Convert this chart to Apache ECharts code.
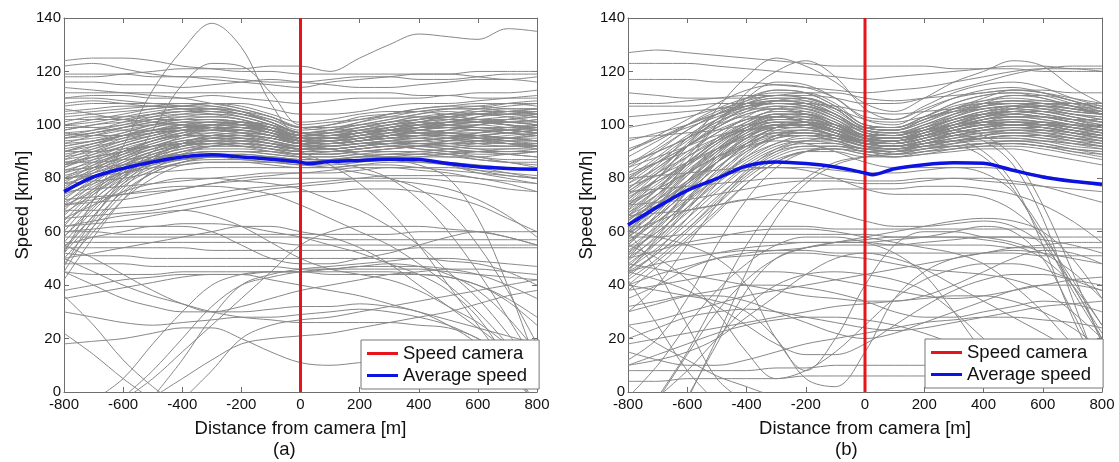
<!DOCTYPE html>
<html><head><meta charset="utf-8">
<script src="https://cdn.jsdelivr.net/npm/echarts@6/dist/echarts.min.js"></script>
<style>html,body{margin:0;padding:0;background:#fff}#c{width:1119px;height:462px}</style>
</head><body><div id="c"></div><script>
// ---------- DATA ----------
const distances = [-800,-700,-600,-500,-400,-300,-200,-100,0,100,200,300,400,500,600,700,800];
const avgDistances = [-800,-700,-600,-500,-400,-300,-200,-100,0,25,100,200,300,400,500,600,700,800];
const avgSpeedA = [75,80.5,83.7,86.1,88,88.8,88,87.1,86,85.5,86.3,86.7,87.1,87,85.5,84.3,83.7,83.4];
const avgSpeedB = [62.5,69.3,75.5,79.9,84.6,86.1,85.5,84.2,82,81.3,83.6,85.1,85.8,85.6,83,80.5,78.9,77.8];
const cameraPosition = 0;
const speedRange = [0, 140];
const distRange = [-800, 800];
const seriesNames = ['Speed camera', 'Average speed'];
const panelLabels = ['(a)', '(b)'];
const _ = null;
const speedTracesA = [
[124,125,125,124,122,121,120,120,119,119,119,119,119,119,120,120,120],
[122,123,121,119,118,118,117,116,116,117,118,118,117,117,118,119,119],
[119,119,119,118,118,117,116,115,114,116,117,118,119,119,118,117,118],
[116,116,115,115,114,115,116,117,116,115,114,114,115,116,117,117,116],
[112,112,112,112,112,112,112,112,112,112,112,112,111,111,112,112,113],
[110,111,111,110,110,111,110,109,108,109,110,110,110,111,110,110,110],
[108,109,108,107,107,108,108,106,104,104,105,107,108,108,109,110,111],
[105,106,107,107,106,105,104,102,99,100,103,104,105,106,106,107,108],
[103,104,105,106,107,108,107,104,101,102,104,105,105,104,104,105,105],
[100,102,104,106,107,107,105,102,98,99,100,101,103,103,104,104,104],
[98,100,102,104,105,105,103,100,96,97,99,100,101,102,102,101,100],
[96,98,101,104,106,106,105,101,97,97,98,100,101,100,99,99,99],
[95,97,99,101,103,104,103,100,96,96,97,99,100,100,99,98,97],
[93,96,99,102,103,103,102,99,95,95,97,98,98,97,96,95,96],
[92,94,97,100,102,103,102,98,94,95,97,99,101,103,104,104,103],
[90,93,96,99,101,102,101,98,95,96,98,100,102,103,105,106,106],
[88,92,96,99,101,101,100,98,96,97,99,101,102,104,106,108,109],
[87,91,95,98,100,100,99,97,94,94,96,98,99,99,98,97,96],
[85,90,94,97,98,99,99,97,95,95,96,97,97,96,95,94,94],
[84,89,93,96,98,98,97,96,93,93,94,95,96,96,97,98,99],
[82,87,92,95,97,98,98,96,94,94,95,96,96,95,93,92,92],
[80,86,91,94,96,97,96,94,92,93,94,95,95,94,94,95,97],
[78,85,90,94,96,96,95,93,91,91,92,93,94,95,96,97,98],
[76,84,90,94,96,96,95,93,92,92,93,94,93,92,91,90,90],
[74,82,88,92,94,95,95,93,91,92,93,93,92,91,90,90,91],
[72,80,87,91,94,95,94,92,90,90,91,92,93,93,94,95,96],
[70,79,86,90,92,93,93,92,90,90,91,92,92,91,90,89,88],
[68,78,85,90,93,94,93,91,89,90,91,92,92,92,93,94,94],
[66,76,84,89,92,93,92,91,89,89,90,90,90,89,88,87,87],
[64,75,83,88,91,92,92,91,90,90,91,92,91,90,88,86,85],
[62,74,82,87,90,91,91,90,89,89,90,91,92,93,93,93,92],
[60,72,80,86,89,90,90,89,88,88,89,90,90,89,87,86,84],
[58,70,79,85,88,89,89,88,87,87,88,89,89,88,88,89,90],
[56,68,78,84,87,88,88,87,86,87,88,88,87,86,85,84,83],
[54,66,77,83,86,87,87,86,86,86,87,87,86,85,84,82,80],
[52,64,75,82,86,88,88,87,86,86,87,88,89,90,90,89,88],
[50,62,74,82,86,88,89,88,87,87,88,88,87,85,82,80,78],
[48,60,72,80,85,86,86,85,84,84,85,86,86,85,83,81,80],
[100,99,98,98,99,100,101,100,97,98,100,102,104,106,107,108,108],
[106,104,102,101,100,99,98,96,93,94,96,98,100,101,102,103,104],
[97,96,96,97,98,98,97,95,93,93,94,95,96,98,100,101,101],
[90,90,91,92,93,94,94,93,91,91,92,93,94,95,97,99,100],
[86,86,87,88,89,90,90,90,89,89,90,91,92,94,96,97,98],
[83,84,85,86,87,88,88,88,87,87,88,89,90,91,92,92,92],
[80,81,82,84,85,86,86,86,85,85,86,87,88,89,90,91,91],
[78,79,80,82,83,84,84,84,84,84,85,85,84,83,82,81,80],
[75,76,77,78,79,80,81,82,82,83,84,84,83,82,80,79,78],
[72,73,74,75,76,78,80,81,82,82,83,84,84,84,83,82,81],
[70,71,72,74,76,78,79,80,80,80,80,80,80,79,78,76,75],
[68,68,69,70,72,74,76,77,78,79,80,81,81,81,80,78,75],
[65,66,67,68,70,72,74,76,77,78,79,79,78,76,72,66,58],
[62,63,64,66,68,70,72,74,75,75,76,76,75,73,70,65,60],
[58,58,58,58,58,58,58,58,58,57,57,57,57,57,57,57,57],
[56,56,56,56,56,56,56,56,55,55,55,55,55,55,55,55,55],
[60,60,59,59,59,59,59,59,59,59,59,59,60,60,60,60,60],
[54,54,54,54,54,53,53,53,53,53,53,53,54,54,54,54,54],
[52,51,51,50,50,50,50,50,50,50,50,50,50,49,48,45,40],
[48,48,48,47,47,47,47,47,46,46,47,47,47,46,44,40,35],
[45,44,44,44,45,45,45,45,45,45,45,45,44,43,40,34,25],
[38,40,42,43,44,44,44,45,45,46,47,48,47,44,38,28,15],
[50,45,40,36,33,30,28,27,26,26,26,26,25,24,20,12,2],
[55,50,44,38,33,30,30,31,32,32,33,32,30,25,18,8,-5],
[36,25,12,2,-6,_,_,_,_,_,_,_,_,_,_,_,_],
[_,_,-2,8,20,32,40,43,45,46,46,46,46,45,44,43,42],
[_,_,_,-2,12,28,40,44,46,47,48,49,50,50,49,48,47],
[_,-3,5,18,30,40,44,45,45,44,44,44,44,43,40,35,28],
[_,_,-3,5,15,25,35,45,55,60,62,62,62,61,60,58,55],
[_,_,_,_,-3,8,20,25,27,28,30,32,34,36,38,40,42],
[52,72,92,113,128,138,129,108,96,97,98,98,97,96,95,95,94],
[70,75,82,98,115,123,122,112,100,101,102,103,103,102,101,100,99],
[118,118,119,120,121,121,121,122,122,120,125,130,134,133,132,136,135],
[95,97,99,100,100,99,97,94,90,85,78,68,55,40,25,10,-5],
[85,88,90,92,93,93,92,90,88,86,84,80,72,60,45,28,10],
[90,93,96,98,99,99,98,96,93,91,89,87,85,80,65,40,10],
[80,82,85,87,88,88,87,86,85,84,82,80,76,68,55,38,18],
[65,70,75,78,80,80,79,78,76,72,68,62,55,45,35,22,8],
[62,64,66,67,68,66,62,56,50,46,44,42,38,32,26,18,12],
[22,14,5,-3,_,_,_,_,_,_,_,_,_,_,_,_,_],
[18,19,20,22,24,24,20,15,11,10,11,12,12,11,10,9,9],
[_,_,_,-2,5,12,18,20,21,22,24,26,28,30,33,36,38],
[30,28,26,25,26,27,28,28,29,30,31,30,28,25,20,14,8],
[45,40,35,32,30,30,32,35,38,40,42,44,45,46,46,45,44],
[55,58,60,62,62,60,55,50,48,48,50,52,55,58,60,58,55],
[60,61,62,62,63,63,62,60,58,55,52,48,44,38,28,12,-5],
[70,72,74,76,77,77,76,74,70,65,60,55,48,40,30,18,5],
[50,52,54,56,58,60,62,62,60,58,54,48,40,32,24,16,10],
[35,37,39,41,43,44,44,42,40,38,36,33,30,27,24,21,18],
[45,62,76,86,92,95,96,95,93,93,94,95,96,96,95,94,93],
[42,58,72,83,89,92,93,92,91,91,92,93,94,95,95,94,92],
[47,65,80,90,96,99,100,99,96,96,97,98,99,100,101,101,100],
[101,103,103,104,105,106,105,103,99,98,99,101,102,103,102,101,102],
[99,99,100,102,104,105,104,101,97,96,98,100,102,104,105,105,106],
[97,98,100,103,105,104,102,99,95,95,96,97,99,101,103,104,105],
[94,95,97,100,102,102,100,98,94,93,95,97,98,100,101,101,102],
[91,93,95,97,100,101,100,97,93,93,94,96,98,99,100,101,100],
[89,91,94,96,98,99,99,97,94,94,95,97,99,100,101,102,103],
[87,89,92,95,98,100,100,98,95,95,96,98,100,101,101,100,99],
[86,88,90,93,96,98,99,98,96,96,97,98,98,97,96,97,98],
[83,86,89,92,95,97,98,97,95,95,97,99,100,99,98,97,96],
[81,84,88,92,95,96,96,95,93,93,94,96,97,97,96,95,95],
[79,83,87,91,94,95,95,94,92,92,93,94,96,97,98,98,97],
[77,82,86,90,93,95,96,95,93,92,93,94,95,95,94,93,93],
[75,80,85,89,92,94,95,94,92,91,92,93,93,92,91,91,92],
[73,79,85,89,92,93,93,92,91,91,92,94,95,96,96,95,94],
[71,77,83,88,91,93,94,93,92,92,93,94,94,93,92,92,93],
[69,76,82,87,90,92,93,92,91,91,92,93,93,94,95,96,97],
[67,74,81,86,90,92,92,91,90,90,91,92,91,90,89,89,90],
[100,101,103,105,106,106,104,101,97,97,99,101,103,104,104,103,101],
[104,105,106,107,108,108,106,103,99,99,101,103,105,106,106,105,104],
[107,108,108,108,108,107,105,101,97,98,101,104,106,107,108,108,107],
[96,97,99,101,102,102,101,99,96,96,97,98,99,99,98,98,99],
[92,94,96,98,99,100,100,99,97,96,97,99,101,103,102,100,98],
[88,90,93,96,99,101,101,99,96,95,96,98,100,102,104,105,104],
[85,87,90,94,97,99,99,98,95,94,95,97,99,101,102,102,101],
[82,85,89,93,96,98,98,96,93,93,94,96,98,99,99,98,97],
[102,102,102,103,104,104,103,100,96,96,98,99,100,101,103,105,106],
[98,100,101,102,102,102,101,98,95,95,96,98,100,101,101,102,103],
[95,96,98,100,101,101,100,98,95,94,95,96,97,98,100,102,104],
[93,94,96,98,100,101,101,99,96,96,97,98,99,100,100,99,98],
[90,92,94,97,99,100,99,97,94,94,95,96,97,97,97,98,99],
[58,69,80,88,93,96,97,96,94,93,94,95,96,96,96,95,94],
[53,66,78,87,93,96,97,96,94,94,95,96,97,98,98,97,96],
[63,72,81,88,93,96,96,95,93,93,94,96,98,99,99,98,97],
[76,83,89,94,97,99,99,97,94,93,94,95,96,96,95,93,91],
[84,88,92,95,98,100,101,100,97,96,97,99,101,102,101,100,99],
[110,110,109,108,107,106,104,101,97,98,100,102,104,105,104,104,105],
[114,113,112,111,110,108,106,103,99,100,102,104,106,107,107,106,106],
[80,84,88,91,93,94,94,93,91,90,90,91,92,93,94,93,92],
[78,81,84,87,89,90,90,89,88,88,89,89,89,89,90,90,90],
[74,78,82,85,87,88,88,88,87,87,87,88,88,88,87,86,86]
];
const speedTracesB = [
[127,128,127,126,125,124,123,122,122,122,122,121,121,121,120,120,120],
[123,123,123,122,121,120,119,118,117,118,119,120,121,122,122,121,121],
[117,117,117,116,116,115,114,113,112,113,114,116,118,120,121,121,120],
[108,108,109,110,111,111,111,110,108,108,110,113,116,119,121,122,122],
[107,107,107,108,108,108,108,107,105,104,105,106,107,108,108,108,108],
[112,111,110,110,110,111,112,112,110,109,110,111,112,113,113,112,112],
[103,104,105,106,107,108,108,106,102,101,103,105,106,107,107,106,105],
[95,96,97,98,100,101,101,100,98,97,98,100,102,103,103,102,102],
[90,96,102,108,113,115,114,110,103,102,106,110,112,113,112,110,108],
[85,92,100,106,110,112,112,108,100,99,103,107,109,110,109,108,106],
[82,90,98,104,108,110,110,106,99,98,101,105,108,109,108,106,104],
[80,88,96,102,107,109,108,104,98,97,100,104,106,107,106,104,102],
[78,86,94,101,105,107,106,102,97,96,99,102,104,105,104,102,100],
[76,84,92,99,104,106,105,101,96,96,98,101,103,104,103,101,99],
[74,82,90,97,102,105,104,100,95,95,97,100,103,105,106,105,104],
[72,80,88,95,101,104,103,99,95,94,96,99,101,101,100,98,96],
[70,78,86,94,100,103,102,98,94,94,96,99,102,104,105,104,103],
[68,76,85,93,99,102,101,97,94,94,96,99,101,102,101,99,97],
[66,74,83,91,98,101,100,97,94,93,95,98,100,101,100,98,96],
[64,72,81,90,97,100,100,97,93,93,95,97,99,100,100,99,98],
[62,70,79,88,95,99,99,96,93,92,94,96,98,99,99,97,95],
[60,68,77,86,94,98,98,96,92,92,94,96,97,98,97,95,93],
[58,66,75,84,92,97,97,95,92,91,93,95,96,97,96,94,92],
[56,64,73,82,90,95,96,94,91,91,93,94,95,96,95,93,91],
[54,62,71,80,88,93,95,94,91,90,92,94,96,98,98,97,96],
[52,60,69,78,86,92,94,93,91,90,92,93,94,94,93,91,89],
[50,58,67,76,85,91,93,93,90,90,91,93,95,96,96,95,94],
[48,56,65,75,84,90,92,92,90,89,91,92,93,93,92,90,88],
[46,54,63,73,82,89,92,92,90,89,90,92,93,94,93,91,90],
[44,52,61,71,81,88,91,91,89,88,90,91,92,92,91,89,87],
[42,50,60,70,80,87,90,91,89,88,89,91,92,93,92,90,89],
[40,49,58,68,78,86,90,90,88,88,89,90,91,91,89,87,85],
[62,73,84,93,100,104,104,100,96,95,97,100,103,106,108,108,107],
[58,70,82,92,99,103,103,99,95,95,97,101,104,106,107,106,104],
[55,67,79,90,98,102,102,99,95,94,96,100,103,105,105,103,101],
[50,62,75,88,97,101,101,98,94,93,96,99,102,104,103,101,99],
[45,58,72,86,96,100,100,97,94,93,95,98,101,103,102,100,98],
[72,82,93,102,108,111,110,106,99,98,102,106,108,109,108,106,104],
[68,80,92,102,109,113,112,107,100,99,103,108,111,112,111,108,105],
[66,76,88,100,110,116,115,110,102,100,105,110,113,114,112,109,106],
[60,72,86,100,112,120,124,118,106,102,107,112,115,116,114,110,107],
[70,80,92,106,118,125,122,116,108,105,110,116,120,124,122,114,108],
[78,84,92,100,106,108,107,104,98,96,98,100,101,101,100,100,100],
[84,88,92,96,98,99,99,98,96,95,96,97,98,98,98,97,96],
[75,76,77,78,79,80,80,80,79,79,80,80,79,78,77,76,75],
[80,81,82,83,84,84,84,83,82,82,83,84,84,83,81,79,77],
[70,71,72,74,76,78,79,79,78,78,79,80,80,79,77,74,71],
[66,67,68,70,72,74,75,76,76,76,77,77,76,74,70,64,56],
[62,62,62,62,62,62,62,61,61,61,61,61,61,61,61,61,61],
[58,58,59,59,59,59,59,59,59,58,58,58,58,58,58,58,58],
[55,55,55,56,56,56,56,56,56,55,55,55,55,54,54,54,54],
[52,52,52,52,53,53,53,52,52,52,52,52,52,52,51,51,51],
[_,_,-2,18,38,50,54,55,55,55,56,57,58,58,57,55,52],
[_,-3,14,30,42,50,54,56,57,58,58,58,57,55,50,40,25],
[35,40,46,50,52,53,54,56,58,60,62,64,65,64,60,50,35],
[40,44,47,50,51,52,52,51,50,48,46,45,44,42,38,30,20],
[48,46,44,42,40,38,36,35,34,34,36,40,45,50,53,52,48],
[30,33,36,38,40,40,39,37,34,30,28,28,30,32,34,33,30],
[20,24,28,30,31,30,28,26,24,23,24,26,28,30,32,33,34],
[8,8,8,8,8,9,9,10,10,10,10,10,11,11,11,11,11],
[4,4,5,5,5,5,6,6,6,6,6,7,7,7,7,8,8],
[10,14,18,22,25,27,28,28,27,25,22,18,14,10,8,6,5],
[40,38,36,34,30,20,5,2,15,35,45,50,52,53,52,50,48],
[60,58,55,50,40,20,8,20,40,55,60,60,58,56,52,45,35],
[55,50,42,30,15,5,8,15,25,35,42,46,48,48,46,42,38],
[45,42,38,32,25,18,14,14,18,25,32,38,42,44,44,42,40],
[-2,10,25,38,48,55,58,58,56,52,44,30,15,5,2,2,2],
[_,-2,8,20,32,40,44,45,44,42,38,30,20,10,3,_,_],
[90,95,100,104,106,106,104,100,95,94,96,98,96,88,70,45,18],
[85,90,95,100,103,103,101,98,93,92,94,96,94,85,65,35,5],
[80,86,92,98,102,103,101,97,93,92,93,94,90,78,55,28,5],
[75,82,88,94,98,100,99,96,92,91,92,92,88,76,58,38,20],
[70,76,82,88,92,94,93,90,86,84,84,84,82,75,60,40,22],
[65,70,75,80,83,84,83,80,76,74,74,74,73,68,58,42,25],
[60,64,68,70,72,72,70,67,64,62,62,63,64,62,55,40,20],
[50,53,56,58,60,61,61,60,58,56,54,52,48,40,30,18,8],
[45,48,50,52,54,55,56,56,56,57,58,60,62,60,50,30,8],
[_,-2,15,35,55,70,80,86,88,89,91,93,95,96,96,95,94],
[_,_,-3,20,45,65,78,85,88,90,92,94,95,96,95,94,93],
[12,20,35,55,72,84,90,92,91,90,91,92,93,93,92,91,90],
[30,40,55,70,82,90,94,95,93,92,93,94,95,95,94,93,92],
[42,25,8,-4,_,_,_,_,_,_,_,_,_,_,_,_,_],
[60,45,25,5,-4,_,_,_,_,_,_,_,_,_,_,_,_],
[25,18,12,6,2,-2,_,_,_,_,_,_,_,_,_,_,_],
[15,12,10,10,12,15,18,20,22,24,26,27,28,28,27,26,24],
[38,40,42,44,45,45,44,42,40,38,36,35,36,38,40,42,43],
[25,27,30,33,36,38,40,42,44,46,48,50,52,54,55,56,56],
[10,12,15,20,28,36,44,50,52,50,46,40,34,28,22,16,12],
[32,34,36,36,34,30,26,22,20,22,26,30,34,38,40,40,38],
[18,20,22,24,26,28,30,32,33,34,35,36,36,34,30,24,16],
[88,94,100,105,109,111,110,106,99,98,102,106,108,108,107,105,104],
[84,91,98,104,108,110,109,104,97,96,100,104,107,108,108,107,106],
[79,87,95,102,106,108,107,103,97,96,99,103,106,107,106,104,103],
[75,83,92,99,104,106,106,102,96,95,98,102,105,106,105,103,101],
[71,80,89,97,102,105,105,101,96,95,98,102,105,107,107,106,105],
[67,76,86,94,100,104,104,100,95,94,97,101,104,105,104,102,100],
[63,72,82,91,98,102,102,99,95,94,97,100,103,104,103,101,99],
[59,68,79,89,97,101,101,98,94,94,96,99,102,103,103,102,101],
[55,65,76,86,95,100,100,97,94,93,96,99,101,102,101,99,97],
[51,61,72,83,93,99,100,97,93,93,95,98,100,101,100,98,96],
[47,57,69,81,91,98,99,97,93,92,94,97,99,100,99,97,95],
[43,53,65,78,89,96,98,96,93,92,94,96,98,99,98,96,94],
[57,64,72,80,87,93,96,96,93,92,94,97,99,101,101,100,98],
[65,71,78,86,93,99,101,99,95,94,96,100,104,107,108,107,105],
[73,79,86,94,101,106,107,103,97,96,99,104,108,111,111,109,106],
[81,86,92,99,105,109,110,106,99,98,101,106,110,113,112,109,106],
[86,90,95,101,106,109,109,105,99,98,102,106,109,111,110,107,104],
[91,95,99,103,107,109,108,104,98,97,100,103,106,107,106,104,102],
[69,77,85,93,99,103,103,100,95,94,96,99,101,101,100,98,96],
[61,69,78,87,95,100,101,98,94,93,95,98,100,100,99,97,95],
[53,60,69,79,88,95,97,96,93,92,93,95,97,97,96,94,92],
[45,52,61,72,83,91,94,94,92,91,92,94,95,95,94,92,91],
[38,47,57,67,78,86,90,91,90,89,90,91,93,94,94,93,92],
[64,74,85,95,103,107,106,102,96,95,98,103,107,109,109,107,104],
[76,85,95,104,110,113,112,107,100,99,103,108,111,112,110,107,104],
[56,66,78,89,98,103,104,101,96,95,98,102,105,106,105,103,101],
[49,59,71,83,93,99,101,99,95,94,96,99,102,103,102,100,98],
[67,74,82,90,96,100,100,98,94,93,95,98,100,101,101,100,99],
[74,79,85,91,96,99,100,98,95,94,96,98,100,100,99,98,97],
[82,86,90,95,99,102,102,100,96,95,97,99,101,102,101,99,97],
[94,97,100,104,107,108,107,103,98,97,99,102,104,104,103,101,99],
[99,101,103,106,108,109,108,104,99,99,102,105,107,108,107,105,104],
[60,70,81,91,99,104,104,100,95,94,97,101,104,105,104,102,99],
[52,63,75,86,95,100,100,97,93,92,95,98,100,101,101,100,99],
[66,72,79,86,92,96,97,95,92,91,93,96,98,100,100,99,98],
[71,76,82,88,93,96,96,94,91,91,92,94,96,97,97,96,95],
[77,81,86,91,95,97,97,95,92,91,93,95,97,98,97,95,93],
[46,56,68,80,90,96,98,96,93,92,94,97,99,100,100,99,97],
[63,70,78,86,93,97,98,96,93,92,94,97,99,100,99,97,95],
[58,66,75,84,91,95,96,95,92,91,93,96,98,99,98,96,94]
];

// ---------- CHART ----------
const FONT = "'Liberation Sans', Arial, sans-serif";
const grids = [
  {left: 64, top: 18, width: 473, height: 374},
  {left: 628, top: 18, width: 474, height: 374}
];
const AXC = '#6e6e6e';
const xAxes = [], yAxes = [];
grids.forEach((g, gi) => {
  xAxes.push({gridIndex: gi, type: 'value', min: distRange[0], max: distRange[1], interval: 200, position: 'bottom',
    axisLine: {onZero: false, lineStyle: {color: AXC}}, axisTick: {inside: true, length: 5, lineStyle: {color: AXC}},
    axisLabel: {color: '#111', fontSize: 15, fontFamily: FONT, margin: 5, showMinLabel: true, showMaxLabel: true},
    splitLine: {show: false},
    name: 'Distance from camera [m]', nameLocation: 'middle', nameGap: 27,
    nameTextStyle: {color: '#111', fontSize: 18.5, fontFamily: FONT}});
  xAxes.push({gridIndex: gi, type: 'value', min: distRange[0], max: distRange[1], interval: 200, position: 'top',
    axisLine: {onZero: false, lineStyle: {color: AXC}}, axisTick: {inside: true, length: 5, lineStyle: {color: AXC}},
    axisLabel: {show: false}, splitLine: {show: false}});
  yAxes.push({gridIndex: gi, type: 'value', min: speedRange[0], max: speedRange[1], interval: 20, position: 'left',
    axisLine: {show: true, onZero: false, lineStyle: {color: AXC}}, axisTick: {show: true, inside: true, length: 5, lineStyle: {color: AXC}},
    axisLabel: {color: '#111', fontSize: 15, fontFamily: FONT, margin: 3},
    splitLine: {show: false},
    name: 'Speed [km/h]', nameLocation: 'middle', nameGap: 30,
    nameTextStyle: {color: '#111', fontSize: 18.5, fontFamily: FONT}});
  yAxes.push({gridIndex: gi, type: 'value', min: speedRange[0], max: speedRange[1], interval: 20, position: 'right',
    axisLine: {show: true, onZero: false, lineStyle: {color: AXC}}, axisTick: {show: true, inside: true, length: 5, lineStyle: {color: AXC}},
    axisLabel: {show: false}, splitLine: {show: false}});
});

const series = [];
function addPanel(gi, traces, avg) {
  traces.forEach(row => {
    series.push({type: 'line', xAxisIndex: gi * 2, yAxisIndex: gi * 2,
      data: row.map((v, j) => [distances[j], v === null ? '-' : v]),
      smooth: 0.35, symbol: 'none', silent: true, z: 1, connectNulls: false,
      lineStyle: {color: '#878787', width: 1}});
  });
  series.push({name: seriesNames[0], type: 'line', xAxisIndex: gi * 2, yAxisIndex: gi * 2,
    data: [[cameraPosition, speedRange[0]], [cameraPosition, speedRange[1]]],
    symbol: 'none', z: 5, color: '#e8141c', lineStyle: {color: '#e8141c', width: 3}, itemStyle: {color: '#e8141c'}});
  series.push({name: seriesNames[1], type: 'line', xAxisIndex: gi * 2, yAxisIndex: gi * 2,
    data: avgDistances.map((d, j) => [d, avg[j]]),
    smooth: 0.3, symbol: 'none', z: 6, color: '#0c12e0', lineStyle: {color: '#0c12e0', width: 3.5}, itemStyle: {color: '#0c12e0'}});
}
addPanel(0, speedTracesA, avgSpeedA);
addPanel(1, speedTracesB, avgSpeedB);

const legendBase = {orient: 'vertical', data: seriesNames, backgroundColor: '#fff', borderColor: '#777', borderWidth: 1,
  padding: [4, 12, 4, 6], itemWidth: 31, itemHeight: 3, itemGap: 3, icon: 'rect', selectedMode: false,
  textStyle: {fontSize: 18.5, fontFamily: FONT, color: '#111'}, z: 20};

const chart = echarts.init(document.getElementById('c'), null, {renderer: 'canvas'});
chart.setOption({
  animation: false,
  backgroundColor: '#fff',
  grid: grids,
  xAxis: xAxes,
  yAxis: yAxes,
  legend: [Object.assign({left: 361, top: 340}, legendBase), Object.assign({left: 925, top: 339}, legendBase)],
  graphic: [
    {type: 'text', left: 273, top: 440, style: {text: panelLabels[0], fontSize: 18.5, fontFamily: FONT, fill: '#111'}},
    {type: 'text', left: 835, top: 440, style: {text: panelLabels[1], fontSize: 18.5, fontFamily: FONT, fill: '#111'}}
  ],
  series: series
});
</script></body></html>
